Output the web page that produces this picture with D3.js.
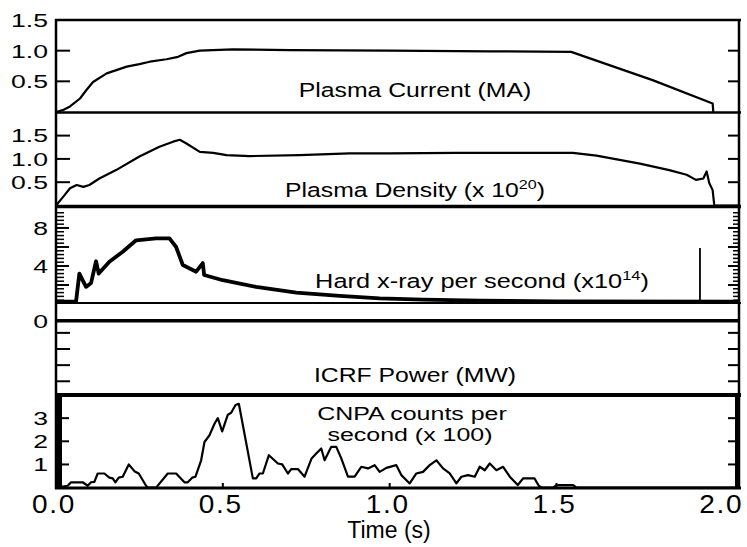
<!DOCTYPE html>
<html>
<head>
<meta charset="utf-8">
<script src="https://cdn.jsdelivr.net/npm/d3@7/dist/d3.min.js"></script>
<style>
  body { margin: 0; background: #fff; }
  text { font-family: "Liberation Sans", Arial, Helvetica, sans-serif; fill: #000; }
</style>
</head>
<body>
<div id="vis"></div>
<script>
// Data: [time (s), value]
const plasmaCurrent = [[0,0],[0.02,0.03],[0.042,0.09],[0.072,0.22],[0.09,0.35],[0.111,0.49],[0.152,0.63],
  [0.212,0.74],[0.25,0.78],[0.281,0.82],[0.331,0.86],[0.366,0.9],[0.391,0.96],[0.431,1.0],[0.53,1.02],
  [0.7,1.01],[1.0,1.0],[1.3,0.99],[1.544,0.98],[1.788,0.52],[1.968,0.14],[1.97,0]];

const plasmaDensity = [[0,0],[0.022,0.19],[0.042,0.37],[0.062,0.44],[0.082,0.40],[0.10,0.44],[0.13,0.58],
  [0.18,0.76],[0.25,1.05],[0.31,1.26],[0.351,1.37],[0.371,1.41],[0.391,1.33],[0.431,1.15],[0.471,1.13],
  [0.511,1.08],[0.58,1.06],[0.73,1.08],[0.88,1.12],[1.0,1.12],[1.2,1.13],[1.4,1.13],[1.549,1.13],
  [1.62,1.07],[1.689,0.98],[1.75,0.9],[1.838,0.76],[1.89,0.66],[1.918,0.55],[1.94,0.58],[1.95,0.73],
  [1.958,0.48],[1.968,0.33],[1.973,0],[2.05,0]];

const hardXray = [[0,0.24],[0.06,0.24],[0.07,3.2],[0.09,1.8],[0.105,2.2],[0.12,4.5],[0.128,3.2],[0.16,4.45],
  [0.2,5.5],[0.24,6.7],[0.3,6.9],[0.34,6.9],[0.36,6.0],[0.38,4.1],[0.42,3.4],[0.44,4.3],[0.444,3.05],
  [0.5,2.5],[0.6,1.8],[0.72,1.2],[0.85,0.85],[0.97,0.6],[1.1,0.45],[1.27,0.35],[1.5,0.28],[2.05,0.25]];
const hardXraySpike = [[1.93,0.25],[1.93,5.9]];

const icrfPower = [[0,0],[2.05,0]];

const cnpaCounts = [[0,0],[0.035,0.08],[0.045,0.23],[0.08,0.23],[0.095,0.08],[0.105,0.23],[0.115,0.25],
  [0.125,0.61],[0.145,0.61],[0.16,0.43],[0.17,0.4],[0.178,0.23],[0.188,0.43],[0.2,0.47],[0.218,1.0],
  [0.235,0.71],[0.248,0.61],[0.27,0.08],[0.275,0],[0.3,0],[0.335,0.61],[0.36,0.61],[0.385,0.23],
  [0.395,0.23],[0.408,0.43],[0.418,0.47],[0.435,1.18],[0.445,1.97],[0.46,2.26],[0.475,2.76],[0.485,3.0],
  [0.498,2.43],[0.515,3.15],[0.525,3.23],[0.538,3.57],[0.548,3.62],[0.59,0.4],[0.6,0.4],[0.61,0.61],
  [0.62,0.61],[0.638,1.4],[0.665,1.04],[0.678,1.0],[0.695,0.61],[0.705,0.8],[0.725,0.8],[0.745,0.47],
  [0.766,1.26],[0.78,1.47],[0.795,1.69],[0.805,1.18],[0.825,1.76],[0.84,1.76],[0.855,1.26],[0.875,0.47],
  [0.895,0.47],[0.915,0.9],[0.935,0.83],[0.955,0.97],[0.97,0.68],[0.99,0.85],[1.02,0.97],[1.035,0.54],
  [1.06,0.18],[1.08,0.61],[1.10,0.68],[1.12,0.97],[1.14,1.18],[1.16,0.83],[1.18,0.61],[1.20,0.18],
  [1.215,0.47],[1.235,0.54],[1.255,0.47],[1.27,0.9],[1.285,0.75],[1.30,1.04],[1.32,0.75],[1.34,0.9],
  [1.36,0.47],[1.384,0.11],[1.40,0.4],[1.434,0.4],[1.447,0.08],[1.455,0],[1.49,0],[1.50,0.11],
  [1.55,0.11],[1.56,0],[2.05,0]];

// Tick values / labels
const timeTicks = [0, 0.5, 1.0, 1.5, 2.0];
const timeLabels = ["0.0", "0.5", "1.0", "1.5", "2.0"];
const currentTicks = [0.5, 1.0];
const currentLabels = [[0.5, "0.5"], [1.0, "1.0"], [1.5, "1.5"]];
const densityTicks = [0.5, 1.0, 1.5];
const densityLabels = [[0.5, "0.5"], [1.0, "1.0"], [1.5, "1.5"]];
const xrayMajorTicks = [2, 4, 6, 8];
const xrayMinorTicks = d3.range(1, 26).filter(i => i % 5 !== 0).map(i => i * 0.4);
const xrayLabels = [[4, "4"], [8, "8"]];
const icrfTicks = [-0.75, -1.75, -2.75, -3.75];
const icrfLabels = [[0, "0"]];
const cnpaTicks = [1, 2, 3];
const cnpaLabels = [[1, "1"], [2, "2"], [3, "3"]];

// Layout
const FRAME_WIDTH = 747;
const FRAME_HEIGHT = 547;
const LEFT = 56;
const RIGHT = 740;

const FRAME = d3.select("#vis")
  .append("svg")
  .attr("width", FRAME_WIDTH)
  .attr("height", FRAME_HEIGHT);

const X_SCALE = d3.scaleLinear().domain([0, 2.05]).range([LEFT, RIGHT]);

const Y_CURRENT = d3.scaleLinear().domain([0, 1.5]).range([112, 20]);
const Y_DENSITY = d3.scaleLinear().domain([0, 2.0]).range([205.5, 112.3]);
const Y_XRAY = d3.scaleLinear().domain([0, 10.1]).range([304, 208]);
const Y_ICRF = d3.scaleLinear().domain([-4.6, 1.1]).range([395, 303]);
const Y_CNPA = d3.scaleLinear().domain([0, 4]).range([487.6, 395]);

function drawLine(data, yScale, width) {
  const line = d3.line()
    .x(d => X_SCALE(d[0]))
    .y(d => yScale(d[1]));
  FRAME.append("path")
    .datum(data)
    .attr("d", line)
    .attr("fill", "none")
    .attr("stroke", "#000")
    .attr("stroke-width", width)
    .attr("stroke-linejoin", "round");
}

drawLine(plasmaCurrent, Y_CURRENT, 2.2);
drawLine(plasmaDensity, Y_DENSITY, 2.2);
drawLine(hardXray, Y_XRAY, 3.8);
drawLine(hardXraySpike, Y_XRAY, 1.8);
drawLine(icrfPower, Y_ICRF, 3.5);
drawLine(cnpaCounts, Y_CNPA, 2.2);

// inward ticks on both sides
function drawTicks(values, yScale, leftLen, rightLen, width) {
  values.forEach(v => {
    FRAME.append("line")
      .attr("x1", LEFT).attr("x2", LEFT + leftLen)
      .attr("y1", yScale(v)).attr("y2", yScale(v))
      .attr("stroke", "#000").attr("stroke-width", width);
    FRAME.append("line")
      .attr("x1", RIGHT - rightLen).attr("x2", RIGHT)
      .attr("y1", yScale(v)).attr("y2", yScale(v))
      .attr("stroke", "#000").attr("stroke-width", width);
  });
}

drawTicks(currentTicks, Y_CURRENT, 14, 12, 2);
drawTicks(densityTicks, Y_DENSITY, 14, 12, 2);
drawTicks(xrayMajorTicks, Y_XRAY, 13, 12, 2);
drawTicks(xrayMinorTicks, Y_XRAY, 8, 7, 1.5);
drawTicks(icrfTicks, Y_ICRF, 14, 12, 2);
drawTicks(cnpaTicks, Y_CNPA, 13, 12, 2);

// y tick labels, stretched wide like the original
function drawYLabels(labels, yScale) {
  labels.forEach(d => {
    FRAME.append("text")
      .attr("transform", "translate(48," + yScale(d[0]) + ") scale(1.4,1)")
      .attr("text-anchor", "end")
      .attr("dy", "0.36em")
      .attr("font-size", 19)
      .text(d[1]);
  });
}

drawYLabels(currentLabels, Y_CURRENT);
drawYLabels(densityLabels, Y_DENSITY);
drawYLabels(xrayLabels, Y_XRAY);
drawYLabels(icrfLabels, Y_ICRF);
drawYLabels(cnpaLabels, Y_CNPA);

// panel frames
const borders = [[20, 2.5], [112.5, 2.5], [206.5, 3.5], [303, 2], [395, 4], [488, 3]];
borders.forEach(b => {
  FRAME.append("line")
    .attr("x1", LEFT - 1).attr("x2", RIGHT + 1)
    .attr("y1", b[0]).attr("y2", b[0])
    .attr("stroke", "#000").attr("stroke-width", b[1]);
});
FRAME.append("line")
  .attr("x1", LEFT).attr("x2", LEFT).attr("y1", 19).attr("y2", 489)
  .attr("stroke", "#000").attr("stroke-width", 2.5);
FRAME.append("line")
  .attr("x1", RIGHT - 1).attr("x2", RIGHT - 1).attr("y1", 19).attr("y2", 489)
  .attr("stroke", "#000").attr("stroke-width", 2.5);
// thick sides of the CNPA panel
FRAME.append("rect")
  .attr("x", LEFT - 1).attr("y", 395).attr("width", 7).attr("height", 93)
  .attr("fill", "#000");
FRAME.append("rect")
  .attr("x", RIGHT - 5).attr("y", 395).attr("width", 5).attr("height", 93)
  .attr("fill", "#000");

// time axis
timeTicks.slice(1, 4).forEach(t => {
  FRAME.append("line")
    .attr("x1", X_SCALE(t)).attr("x2", X_SCALE(t))
    .attr("y1", 488).attr("y2", 483)
    .attr("stroke", "#000").attr("stroke-width", 2);
});
timeTicks.forEach((t, i) => {
  FRAME.append("text")
    .attr("transform", "translate(" + (X_SCALE(t) - 2) + ",513) scale(1.12,1)")
    .attr("text-anchor", "middle")
    .attr("font-size", 25)
    .attr("letter-spacing", 1.5)
    .text(timeLabels[i]);
});
FRAME.append("text")
  .attr("x", 389).attr("y", 538)
  .attr("text-anchor", "middle")
  .attr("font-size", 23)
  .text("Time (s)");

// panel titles
function panelTitle(x, y, parts, sx, size) {
  const t = FRAME.append("text")
    .attr("transform", "translate(" + x + "," + y + ") scale(" + sx + ",1)")
    .attr("text-anchor", "middle")
    .attr("font-size", size);
  parts.forEach(p => {
    if (p.sup) {
      t.append("tspan").attr("dy", -8).attr("font-size", size * 0.65).text(p.text);
    } else {
      t.append("tspan").attr("dy", p.after ? 8 : 0).text(p.text);
    }
  });
}

panelTitle(415, 97, [{text: "Plasma Current (MA)"}], 1.27, 19.5);
panelTitle(415, 197, [{text: "Plasma Density (x 10"}, {text: "20", sup: true}, {text: ")", after: true}], 1.27, 19.5);
panelTitle(482, 288, [{text: "Hard x-ray per second (x10"}, {text: "14", sup: true}, {text: ")", after: true}], 1.3, 19.5);
panelTitle(415, 382, [{text: "ICRF Power (MW)"}], 1.27, 19.5);
panelTitle(412, 420, [{text: "CNPA counts per"}], 1.35, 18.5);
panelTitle(410, 441, [{text: "second (x 100)"}], 1.35, 18.5);
</script>
</body>
</html>
